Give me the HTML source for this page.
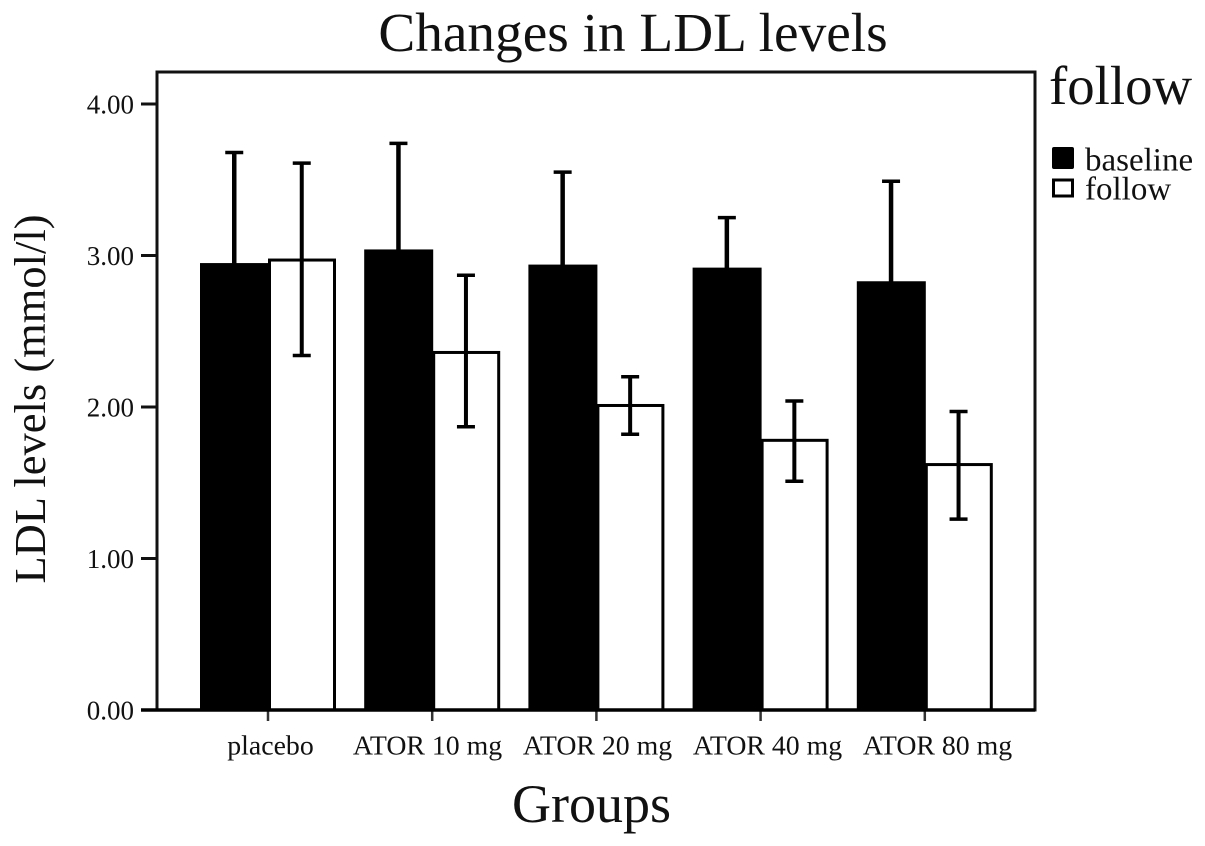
<!DOCTYPE html>
<html>
<head>
<meta charset="utf-8">
<title>Changes in LDL levels</title>
<style>
html,body{margin:0;padding:0;background:#fff;width:1205px;height:846px;overflow:hidden}
svg{display:block;font-family:"Liberation Serif",serif;fill:#111}
</style>
</head>
<body>
<svg id="chart" width="1205" height="846" viewBox="0 0 1205 846" xmlns="http://www.w3.org/2000/svg">
<text x="633" y="51" font-size="55.3" text-anchor="middle">Changes in LDL levels</text>
<text transform="translate(45,399) rotate(-90)" font-size="44.5" text-anchor="middle">LDL levels (mmol/l)</text>
<text x="591.5" y="822" font-size="54" text-anchor="middle">Groups</text>
<text x="1049" y="104" font-size="54.8">follow</text>
<rect x="1052" y="147" width="22" height="22" rx="2" fill="#000"/>
<text x="1085" y="170.5" font-size="33">baseline</text>
<rect x="1053.5" y="180" width="19" height="16" fill="#fff" stroke="#000" stroke-width="3"/>
<text x="1085" y="199.5" font-size="33">follow</text>
<g id="plot"></g>
</svg>
<script>
const categories = ["placebo", "ATOR 10 mg", "ATOR 20 mg", "ATOR 40 mg", "ATOR 80 mg"];
const baselineValues = [2.95, 3.04, 2.94, 2.92, 2.83];
const followValues = [2.97, 2.36, 2.01, 1.78, 1.62];
const baselineUpper = [3.68, 3.74, 3.55, 3.25, 3.49];
const baselineLower = [2.22, 2.34, 2.33, 2.59, 2.17];
const followUpper = [3.61, 2.87, 2.20, 2.04, 1.97];
const followLower = [2.34, 1.87, 1.82, 1.51, 1.26];
const yTicks = [0, 1, 2, 3, 4];
const yTickLabels = ["0.00", "1.00", "2.00", "3.00", "4.00"];

const plotLeft = 157, plotRight = 1035, plotTop = 72, plotBottom = 710;
const unitHeight = 151.5, groupStart = 269, groupStep = 164.2, barWidth = 67.5;
const yScale = v => plotBottom - v * unitHeight;
const xCenter = i => groupStart + i * groupStep;
const labelCenter = i => i === 0 ? 270.5 : 427.5 + (i - 1) * 170;
const plot = document.getElementById('plot');
const NS = 'http://www.w3.org/2000/svg';

function make(tag, attrs, text) {
  const el = document.createElementNS(NS, tag);
  for (const k in attrs) el.setAttribute(k, attrs[k]);
  if (text !== undefined) el.textContent = text;
  plot.appendChild(el);
  return el;
}

const frame = make('rect', {x: plotLeft, y: plotTop, width: plotRight - plotLeft, height: plotBottom - plotTop, fill: 'none', stroke: '#111', 'stroke-width': 3});



yTicks.forEach((v, i) => {
  const tick = make('line', {x1: 141, x2: plotLeft, y1: yScale(v), y2: yScale(v), stroke: '#111', 'stroke-width': 3});
  
  
  const label = make('text', {x: 134, y: yScale(v) + 9.5, 'font-size': 27, 'text-anchor': 'end'}, yTickLabels[i]);
  
  
});

function errorBar(x, hi, lo, name, w, sw) {
  const stem = make('line', {x1: x, x2: x, y1: yScale(hi), y2: yScale(lo), stroke: '#000', 'stroke-width': sw});
  
  
  [hi, lo].forEach(v => {
    const cap = make('line', {x1: x - w, x2: x + w, y1: yScale(v), y2: yScale(v), stroke: '#000', 'stroke-width': 3.5});
    
    
  });
}

categories.forEach((cat, i) => {
  const c = xCenter(i);
  const b = make('rect', {x: c - barWidth - 1.5, y: yScale(baselineValues[i]), width: barWidth + 1.5, height: plotBottom - yScale(baselineValues[i]), fill: '#000'});
  
  
  errorBar(c - barWidth / 2 - 1, baselineUpper[i], baselineLower[i], 'baseline', 9, 4.5);

  const f = make('rect', {x: c + 0.5, y: yScale(followValues[i]), width: barWidth - 2.5, height: plotBottom - yScale(followValues[i]), fill: '#fff', stroke: '#000', 'stroke-width': 3});
  
  
  errorBar(c + barWidth / 2 - 1, followUpper[i], followLower[i], 'follow', 9, 4);

  const tick = make('line', {x1: c - 1, x2: c - 1, y1: plotBottom, y2: plotBottom + 11, stroke: '#333', 'stroke-width': 2.5});
  
  
  const label = make('text', {x: labelCenter(i), y: 754.5, 'font-size': 27.8, 'text-anchor': 'middle'}, cat);
  
  
});

const axis = make('line', {x1: 141, x2: plotRight, y1: plotBottom, y2: plotBottom, stroke: '#000', 'stroke-width': 3.5});


</script>
</body>
</html>
